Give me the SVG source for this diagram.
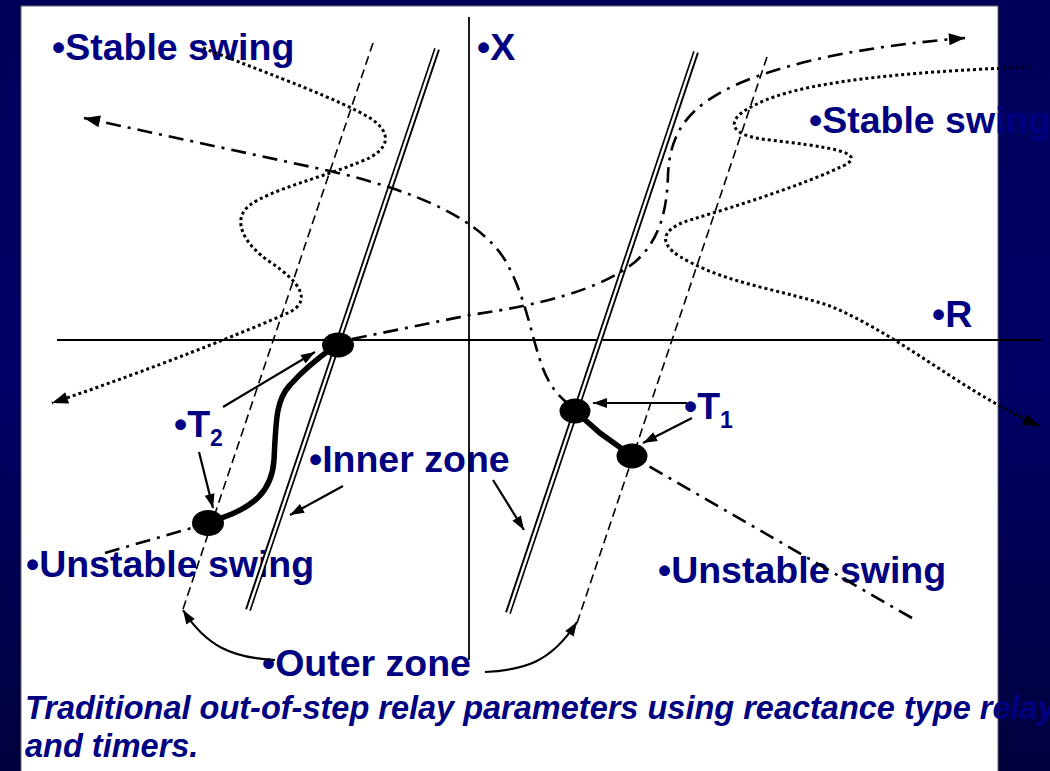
<svg xmlns="http://www.w3.org/2000/svg" width="1050" height="771" viewBox="0 0 1050 771">
<defs>
<linearGradient id="bg" x1="0" y1="0" x2="0" y2="1">
<stop offset="0" stop-color="#00005a"/>
<stop offset="0.5" stop-color="#000066"/>
<stop offset="1" stop-color="#00003c"/>
</linearGradient>
<marker id="ah" markerUnits="userSpaceOnUse" markerWidth="18" markerHeight="14" refX="16" refY="6" orient="auto" overflow="visible"><path d="M0,0 L16,6 L0,12 z" fill="#000"/></marker>
<marker id="as" markerUnits="userSpaceOnUse" markerWidth="16" markerHeight="12" refX="14" refY="5" orient="auto" overflow="visible"><path d="M0,0 L14,5 L0,10 z" fill="#000"/></marker>
<style>
.lbl{font-family:"Liberation Sans",Arial,sans-serif;font-weight:bold;font-size:37.5px;fill:#000080}
.sub{font-size:23px}
.cap{font-family:"Liberation Sans",Arial,sans-serif;font-weight:bold;font-style:italic;font-size:32.5px;fill:#000080}
.axis{stroke:#000;stroke-width:1.8;fill:none}
.dash{stroke:#000;stroke-width:1.6;stroke-dasharray:9 5;fill:none}
.dblo{stroke:#000;stroke-width:6;fill:none}
.dbli{stroke:#fff;stroke-width:2.4;fill:none}
.dd{stroke:#000;stroke-width:2.6;stroke-dasharray:15 7 3 7;fill:none}
.dt{stroke:#000;stroke-width:3;stroke-dasharray:3 3;fill:none}
.thin{stroke:#000;stroke-width:2.2;fill:none}
.thick{stroke:#000;stroke-width:5.5;fill:none;stroke-linecap:round}
.node{fill:#000}
</style>
</defs>
<rect x="0" y="0" width="1050" height="771" fill="url(#bg)"/>
<rect x="21" y="6" width="977" height="770" fill="#fff" stroke="#666" stroke-width="1"/>

<g id="labels">
<g id="lbl-stable-left"><text class="lbl" x="52" y="60">•Stable swing</text></g>
<g id="lbl-x"><text class="lbl" x="477" y="60">•X</text></g>
<g id="lbl-stable-right"><text class="lbl" x="809" y="133">•Stable swing</text></g>
<g id="lbl-r"><text class="lbl" x="932" y="327">•R</text></g>
<g id="lbl-t2"><text class="lbl" x="174" y="437">•T<tspan class="sub" dy="9">2</tspan></text></g>
<g id="lbl-t1"><text class="lbl" x="684" y="419">•T<tspan class="sub" dy="9">1</tspan></text></g>
<g id="lbl-inner"><text class="lbl" x="309" y="472">•Inner zone</text></g>
<g id="lbl-unstable-left"><text class="lbl" x="26" y="577">•Unstable swing</text></g>
<g id="lbl-unstable-right"><text class="lbl" x="658" y="583">•Unstable swing</text></g>
<g id="lbl-outer"><text class="lbl" x="262" y="676">•Outer zone</text></g>
<g id="caption"><text class="cap" x="25" y="719">Traditional out-of-step relay parameters using reactance type relays</text><text class="cap" x="25" y="757">and timers.</text></g>
</g>

<g id="axes">
<line class="axis" x1="469" y1="17" x2="469" y2="660"/>
<line class="axis" x1="57" y1="340" x2="1042" y2="340"/>
</g>

<g id="zones">
<line class="dash" x1="373" y1="43" x2="182" y2="612"/>
<line class="dash" x1="767" y1="57" x2="577" y2="623"/>
<line class="dblo" x1="437" y1="49" x2="248" y2="610"/>
<line class="dbli" x1="437.5" y1="47" x2="247.5" y2="612"/>
<line class="dblo" x1="696" y1="52" x2="508" y2="613"/>
<line class="dbli" x1="696.5" y1="50" x2="507.5" y2="615"/>
</g>

<g id="connectors">
<path class="dt" d="M203 48 C280 78 340 100 370 118 C392 132 392 150 360 162 C320 178 270 190 250 205 C230 220 245 245 270 262 C300 282 312 300 290 312 C250 330 150 370 52 403" marker-end="url(#ah)"/>
<path class="dt" d="M1030 67 C900 72 800 82 757 104 C722 120 728 136 770 140 C820 146 872 152 843 166 C800 186 740 205 690 220 C655 231 660 248 690 262 C730 284 790 292 830 306 C900 335 960 390 1039 426" marker-end="url(#ah)"/>
<path class="dd" d="M912 618 L640 461"/>
<path class="dd" d="M570 405 C556 395 546 380 540 360 C530 330 525 295 505 260 C480 220 420 192 330 171 L84 118" marker-end="url(#ah)"/>
<path class="dd" d="M105 553 L195 527"/>
<path class="dd" d="M352 339 L470 315 C540 305 600 290 635 262 C660 240 667 210 668 175 C670 130 690 105 740 83 C800 58 880 45 965 38" marker-end="url(#ah)"/>
<path class="thick" d="M215 520 C255 508 272 490 274 460 C276 420 276 400 290 385 C305 368 318 358 335 346"/>
<path class="thick" d="M575 411 L600 433 L632 456"/>
<line class="thin" x1="223" y1="407" x2="315" y2="352" marker-end="url(#as)"/>
<line class="thin" x1="199" y1="452" x2="213" y2="508" marker-end="url(#as)"/>
<line class="thin" x1="343" y1="486" x2="290" y2="515" marker-end="url(#as)"/>
<line class="thin" x1="493" y1="480" x2="524" y2="530" marker-end="url(#as)"/>
<line class="thin" x1="687" y1="403" x2="593" y2="403" marker-end="url(#as)"/>
<line class="thin" x1="692" y1="418" x2="643" y2="443" marker-end="url(#as)"/>
<path class="thin" d="M275 660 C232 658 206 646 183 610" marker-end="url(#as)"/>
<path class="thin" d="M485 672 C522 670 550 664 577 622" marker-end="url(#as)"/>
</g>

<g id="nodes">
<ellipse id="node-p1" class="node" cx="338" cy="345" rx="16" ry="12.5"/>
<ellipse id="node-p2" class="node" cx="208" cy="523" rx="16" ry="13"/>
<ellipse id="node-p3" class="node" cx="575" cy="411" rx="15.5" ry="12.5"/>
<ellipse id="node-p4" class="node" cx="632" cy="456" rx="15.5" ry="12.5"/>
</g>
</svg>
